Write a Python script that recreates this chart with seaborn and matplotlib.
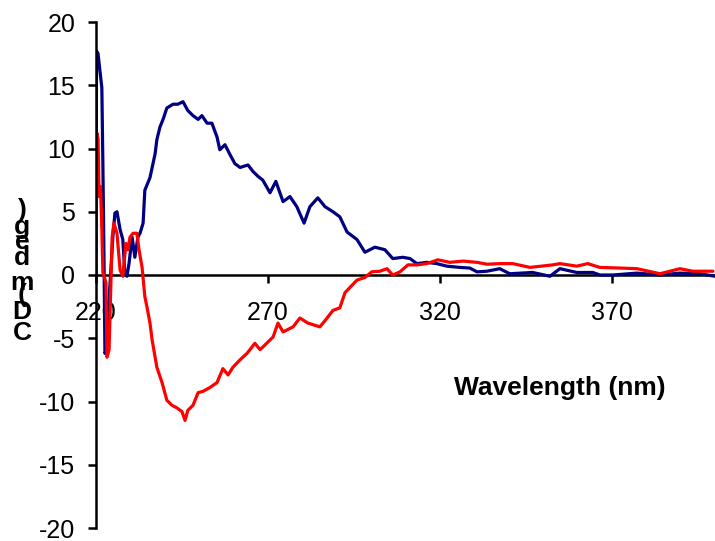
import matplotlib
matplotlib.use("Agg")
import matplotlib.pyplot as plt
import seaborn as sns

# values (wavelength in nm, CD in mdeg)
blue_nm = [220.0, 220.15, 220.6, 221.2, 221.7, 222.0, 222.3, 222.6, 222.9, 223.5,
           224.1, 224.9, 225.5, 226.1, 227.0, 227.8, 228.4, 229.0, 229.6, 230.5,
           231.3, 232.2, 232.8, 233.7, 234.2, 235.7, 237.2, 237.7, 238.6, 239.5,
           240.6, 242.4, 243.8, 245.3, 246.7, 248.2, 249.7, 250.8, 252.3, 253.7,
           255.2, 256.0, 257.5, 259.0, 260.4, 261.9, 264.2, 265.6, 267.1, 268.5,
           270.6, 272.3, 274.4, 276.4, 278.4, 280.5, 282.2, 284.5, 286.6, 288.9,
           290.9, 293.0, 295.9, 298.2, 301.1, 304.0, 306.3, 309.2, 311.3, 313.3,
           316.2, 319.1, 322.0, 325.8, 328.7, 330.8, 333.7, 337.4, 340.3, 347.0,
           352.0, 354.9, 359.8, 364.5, 366.5, 370.3, 377.3, 384.0, 389.8, 395.6,
           400.0]
blue_cd = [-0.5, 17.7, 17.5, 16.0, 14.8, 8.8, 2.0, -6.2, -6.0, -3.0,
           -0.6, 3.0, 4.9, 5.0, 3.6, 2.8, 0.1, -0.1, 0.9, 3.0,
           1.4, 3.0, 3.3, 4.1, 6.7, 7.7, 9.6, 10.7, 11.7, 12.3,
           13.2, 13.5, 13.5, 13.7, 13.0, 12.6, 12.3, 12.6, 12.0, 12.0,
           10.9, 9.9, 10.3, 9.5, 8.8, 8.5, 8.7, 8.2, 7.8, 7.5,
           6.5, 7.4, 5.8, 6.2, 5.4, 4.1, 5.4, 6.1, 5.4, 5.0,
           4.6, 3.4, 2.8, 1.8, 2.2, 2.0, 1.3, 1.4, 1.3, 0.9,
           1.0, 0.9, 0.7, 0.6, 0.55, 0.25, 0.3, 0.5, 0.1, 0.2,
           -0.1, 0.5, 0.2, 0.2, 0.0, 0.0, 0.15, 0.0, 0.15, 0.1,
           -0.1]

red_nm = [220.0, 220.3, 220.6, 220.9, 221.3, 221.7, 222.0, 222.9, 223.2, 223.8,
          224.7, 225.2, 226.1, 227.0, 227.8, 228.7, 229.3, 229.9, 230.8, 231.9,
          232.5, 233.4, 234.2, 234.8, 235.7, 236.3, 237.7, 239.2, 240.6, 242.1,
          243.5, 245.0, 245.9, 246.7, 248.2, 249.7, 251.1, 253.1, 255.2, 256.9,
          258.4, 259.8, 261.9, 263.9, 266.2, 267.7, 268.5, 271.5, 272.9, 274.4,
          277.3, 279.3, 281.6, 285.1, 287.2, 288.9, 290.9, 292.4, 293.8, 295.9,
          298.2, 300.2, 302.6, 304.6, 306.3, 308.4, 310.7, 313.3, 316.2, 319.4,
          322.9, 326.7, 330.8, 333.7, 337.4, 341.2, 346.2, 352.8, 354.9, 359.8,
          363.0, 366.5, 372.3, 377.3, 384.0, 389.8, 393.5, 399.4]
red_cd = [2.0, 11.2, 10.7, 6.2, 7.0, 3.6, 0.2, -0.6, -6.5, -5.9,
          3.0, 4.1, 3.3, 0.4, -0.1, 2.5, 2.0, 3.0, 3.3, 3.3,
          2.0, 0.6, -1.7, -2.5, -3.8, -5.1, -7.3, -8.5, -9.9, -10.3,
          -10.5, -10.8, -11.5, -10.7, -10.3, -9.3, -9.2, -8.9, -8.5, -7.4,
          -7.9, -7.3, -6.7, -6.2, -5.4, -5.9, -5.7, -4.9, -3.8, -4.5,
          -4.1, -3.4, -3.8, -4.1, -3.4, -2.8, -2.6, -1.4, -1.0, -0.4,
          -0.2, 0.25, 0.3, 0.5, 0.0, 0.25, 0.8, 0.8, 0.9, 1.2,
          1.0, 1.1, 1.0, 0.85, 0.9, 0.9, 0.6, 0.8, 0.9, 0.7,
          0.9, 0.6, 0.55, 0.5, 0.1, 0.5, 0.3, 0.3]

x_ticks = [220, 270, 320, 370]
y_ticks = [-20, -15, -10, -5, 0, 5, 10, 15, 20]

# y label is drawn as stacked upright characters, bottom to top
ylabel_chars = ["C", "D", "(", "m", "d", "e", "g", ")"]
ylabel_px = [333, 312, 295, 283, 258, 242, 227, 210]

sns.set_style("white")
plt.rcParams["font.family"] = ["Liberation Sans", "DejaVu Sans"]
plt.rcParams["axes.unicode_minus"] = False
plt.rcParams["text.color"] = "black"

W, H = 715, 541
fig = plt.figure(figsize=(W / 100, H / 100), dpi=100)
ax = fig.add_axes([96 / W, (H - 528) / H, (715 - 96) / W, (528 - 22) / H])

sns.lineplot(x=blue_nm, y=blue_cd, color="#000080", lw=2.3, ax=ax,
             estimator=None, sort=False)
sns.lineplot(x=red_nm, y=red_cd, color="#FF0000", lw=2.3, ax=ax,
             estimator=None, sort=False)

ax.set_xlim(220, 400)
ax.set_ylim(-20, 20)
ax.set_xticks(x_ticks)
ax.set_yticks(y_ticks)

for side in ["top", "right"]:
    ax.spines[side].set_visible(False)
ax.spines["bottom"].set_position(("data", 0))
ax.spines["bottom"].set_zorder(1)
for side in ["left", "bottom"]:
    ax.spines[side].set_linewidth(1.8)
    ax.spines[side].set_color("black")

ax.tick_params(axis="both", which="major", bottom=True, left=True,
               direction="out", length=6, width=1.8,
               labelsize=18, color="black", labelcolor="black")
ax.tick_params(axis="x", pad=13)
ax.tick_params(axis="y", pad=9)

ax.set_xlabel("Wavelength (nm)", fontsize=19, fontweight="bold", color="black")
ax.xaxis.set_label_coords(0.75, 0.30)
ax.set_ylabel("")

for ch, py in zip(ylabel_chars, ylabel_px):
    fig.text(22 / W, 1 - py / H, ch, fontsize=19, fontweight="bold",
             ha="center", va="center", color="black")

fig.savefig("out.png", dpi=100)
